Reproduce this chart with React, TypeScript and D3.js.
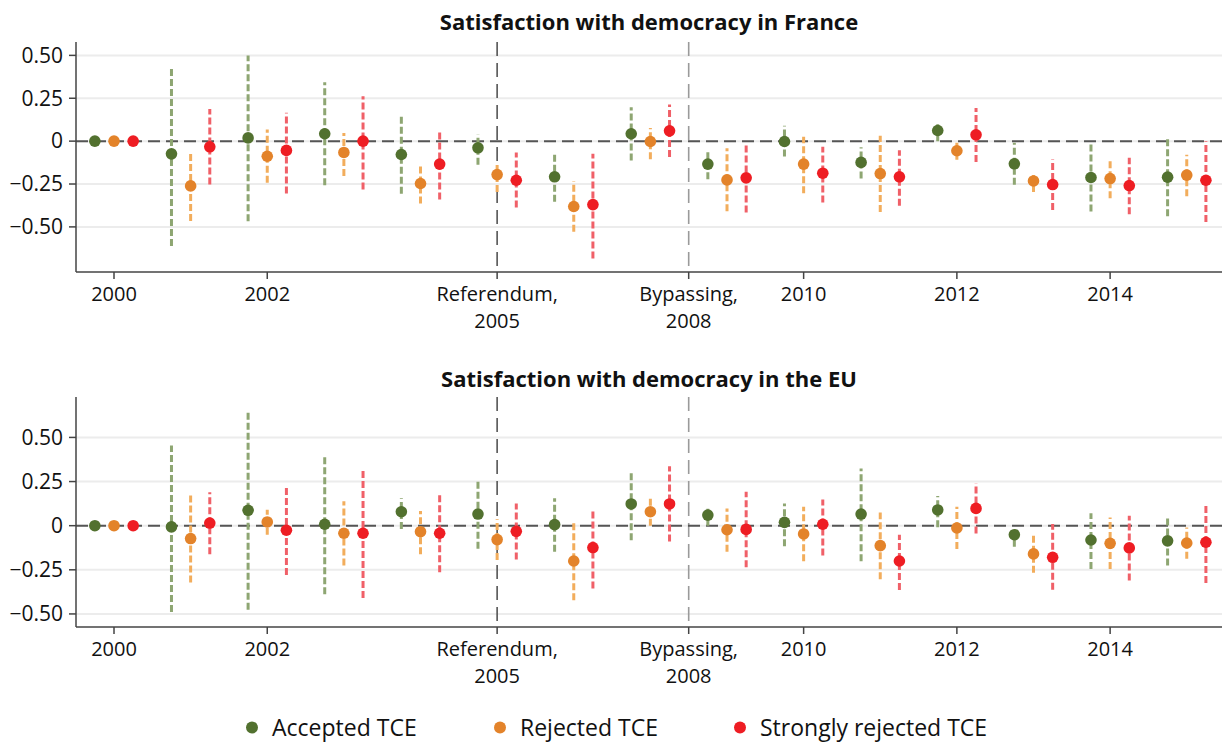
import React from "react";
import * as d3 from "d3";

// wave positions (x units), one group of three estimates per wave
const waves = [1, 2, 3, 4, 5, 6, 7, 8, 9, 10, 11, 12, 13, 14, 15];
const tickPos = [1, 3, 6, 8.5, 10, 12, 14];
const tickLabels = ["2000", "2002", "Referendum,\n2005", "Bypassing,\n2008", "2010", "2012", "2014"];
const eventLines = [
  { x: 6, color: "#555555" },
  { x: 8.5, color: "#9a9a9a" },
];
const yTicks = [0.5, 0.25, 0, -0.25, -0.5];
const yTickLabels = ["0.50", "0.25", "0", "\u22120.25", "\u22120.50"];

const seriesNames = ["Accepted TCE", "Rejected TCE", "Strongly rejected TCE"];
const dotColors = ["#52712f", "#e3832a", "#ee1d23"];
const ciColors = ["#8ea672", "#f2ad5c", "#f06068"];

// [estimate, lower, upper] ; null CI for the baseline wave
const franceAccepted: [number, number | null, number | null][] = [
  [0, null, null], [-0.074, -0.611, 0.434], [0.019, -0.467, 0.5], [0.043, -0.257, 0.344],
  [-0.078, -0.307, 0.15], [-0.039, -0.138, 0.039], [-0.208, -0.354, -0.064], [0.043, -0.113, 0.197],
  [-0.134, -0.222, -0.048], [-0.002, -0.089, 0.089], [-0.124, -0.218, -0.035], [0.062, 0, 0.105],
  [-0.132, -0.255, -0.01], [-0.212, -0.41, -0.018], [-0.21, -0.438, 0.018],
];
const franceRejected: [number, number | null, number | null][] = [
  [0, null, null], [-0.261, -0.465, -0.068], [-0.088, -0.243, 0.068], [-0.066, -0.203, 0.048],
  [-0.247, -0.364, -0.13], [-0.195, -0.296, -0.121], [-0.381, -0.529, -0.234], [-0.002, -0.105, 0.076],
  [-0.226, -0.409, -0.041], [-0.134, -0.304, 0.025], [-0.189, -0.413, 0.031], [-0.056, -0.109, -0.004],
  [-0.232, -0.296, -0.189], [-0.218, -0.333, -0.107], [-0.198, -0.321, -0.08],
];
const franceStrongly: [number, number | null, number | null][] = [
  [0, null, null], [-0.033, -0.253, 0.187], [-0.054, -0.305, 0.165], [0, -0.282, 0.261],
  [-0.134, -0.34, 0.058], [-0.228, -0.387, -0.066], [-0.37, -0.685, -0.074], [0.06, -0.093, 0.214],
  [-0.214, -0.416, -0.019], [-0.187, -0.358, -0.033], [-0.208, -0.377, -0.053], [0.037, -0.121, 0.193],
  [-0.253, -0.401, -0.107], [-0.259, -0.426, -0.097], [-0.228, -0.471, 0],
];

const euAccepted: [number, number | null, number | null][] = [
  [0, null, null], [-0.007, -0.489, 0.454], [0.087, -0.476, 0.652], [0.008, -0.388, 0.4],
  [0.079, -0.019, 0.156], [0.066, -0.13, 0.254], [0.006, -0.147, 0.156], [0.123, -0.083, 0.302],
  [0.06, 0, 0.107], [0.019, -0.117, 0.126], [0.066, -0.201, 0.324], [0.089, -0.009, 0.168],
  [-0.051, -0.119, -0.006], [-0.081, -0.245, 0.07], [-0.086, -0.226, 0.055],
];
const euRejected: [number, number | null, number | null][] = [
  [0, null, null], [-0.073, -0.322, 0.177], [0.021, -0.051, 0.09], [-0.043, -0.226, 0.138],
  [-0.034, -0.162, 0.083], [-0.079, -0.194, 0.036], [-0.2, -0.422, 0.021], [0.079, 0, 0.162],
  [-0.023, -0.147, 0.098], [-0.047, -0.201, 0.107], [-0.113, -0.303, 0.075], [-0.013, -0.132, 0.107],
  [-0.16, -0.266, -0.053], [-0.1, -0.246, 0.047], [-0.098, -0.188, -0.011],
];
const euStrongly: [number, number | null, number | null][] = [
  [0, null, null], [0.015, -0.162, 0.189], [-0.026, -0.279, 0.228], [-0.043, -0.41, 0.324],
  [-0.043, -0.264, 0.179], [-0.032, -0.192, 0.126], [-0.124, -0.356, 0.098], [0.123, -0.09, 0.336],
  [-0.021, -0.235, 0.192], [0.008, -0.169, 0.149], [-0.2, -0.365, -0.051], [0.098, -0.045, 0.24],
  [-0.179, -0.363, 0.01], [-0.126, -0.311, 0.056], [-0.094, -0.325, 0.127],
];

const FONT = "'Open Sans', sans-serif";
const offsets = [-0.25, 0, 0.25];

interface PanelProps {
  title: string;
  series: [number, number | null, number | null][][];
  top: number;
  bottom: number;
  yDomain: [number, number];
  titleY: number;
}

const Panel: React.FC<PanelProps> = ({ title, series, top, bottom, yDomain, titleY }) => {
  const x = d3.scaleLinear().domain([0.504, 15.46]).range([76, 1222]);
  const y = d3.scaleLinear().domain(yDomain).range([bottom, top]);
  const [x0, x1] = x.range();

  return (
    <g>
      <text x={(x0 + x1) / 2} y={titleY} textAnchor="middle" fontFamily={FONT}
        fontWeight={700} fontSize={22} fill="#111">
        {title}
      </text>
      {/* grid */}
      {yTicks.map((t) => (
        <line key={"g" + t} x1={x0} x2={x1} y1={y(t)} y2={y(t)} stroke="#ececec" strokeWidth={2} />
      ))}
      {eventLines.map((e) => (
        <line key={"e" + e.x} x1={x(e.x)} x2={x(e.x)} y1={top} y2={bottom}
          stroke={e.color} strokeWidth={1.6} strokeDasharray="14 7" />
      ))}
      <line x1={x0} x2={x1} y1={y(0)} y2={y(0)} stroke="#555" strokeWidth={2} strokeDasharray="12 6" />
      {/* axes */}
      <line x1={x0} x2={x0} y1={top} y2={bottom} stroke="#444" strokeWidth={1.5} />
      <line x1={x0} x2={x1} y1={bottom} y2={bottom} stroke="#444" strokeWidth={1.5} />
      {yTicks.map((t, i) => (
        <g key={"y" + t}>
          <line x1={x0 - 7} x2={x0} y1={y(t)} y2={y(t)} stroke="#444" strokeWidth={1.5} />
          <text x={x0 - 13} y={y(t)} dy="0.35em" textAnchor="end" fontFamily={FONT}
            fontSize={21} fill="#111">
            {yTickLabels[i]}
          </text>
        </g>
      ))}
      {tickPos.map((p, i) => (
        <g key={"x" + p}>
          <line x1={x(p)} x2={x(p)} y1={bottom} y2={bottom + 7} stroke="#444" strokeWidth={1.5} />
          {tickLabels[i].split("\n").map((s, j) => (
            <text key={j} x={x(p)} y={bottom + 29 + j * 27} textAnchor="middle"
              fontFamily={FONT} fontSize={20} fill="#111">
              {s}
            </text>
          ))}
        </g>
      ))}
      {/* confidence intervals */}
      {series.map((s, k) =>
        s.map((d, i) =>
          d[1] === null ? null : (
            <line key={`ci${k}-${i}`} x1={x(waves[i] + offsets[k])} x2={x(waves[i] + offsets[k])}
              y1={y(d[1] as number)} y2={y(d[2] as number)} stroke={ciColors[k]}
              strokeWidth={3} strokeDasharray="7 3" />
          )
        )
      )}
      {series.map((s, k) =>
        s.map((d, i) => (
          <circle key={`pt${k}-${i}`} cx={x(waves[i] + offsets[k])} cy={y(d[0])} r={5.8}
            fill={dotColors[k]} />
        ))
      )}
    </g>
  );
};

const legendX = [252, 500, 740];

export default function App() {
  return (
    <div style={{ position: "absolute", left: 0, top: 0 }}>
      <svg width={1224} height={742} style={{ display: "block", background: "#fff" }}>
        <Panel title="Satisfaction with democracy in France"
          series={[franceAccepted, franceRejected, franceStrongly]}
          top={42} bottom={272} yDomain={[-0.763, 0.578]} titleY={30} />
        <Panel title="Satisfaction with democracy in the EU"
          series={[euAccepted, euRejected, euStrongly]}
          top={397} bottom={627} yDomain={[-0.574, 0.729]} titleY={387} />
        {seriesNames.map((n, i) => (
          <g key={n}>
            <circle cx={legendX[i]} cy={727.5} r={6} fill={dotColors[i]} />
            <text x={legendX[i] + 20} y={736} fontFamily={FONT} fontSize={23} fill="#111">
              {n}
            </text>
          </g>
        ))}
      </svg>
    </div>
  );
}
